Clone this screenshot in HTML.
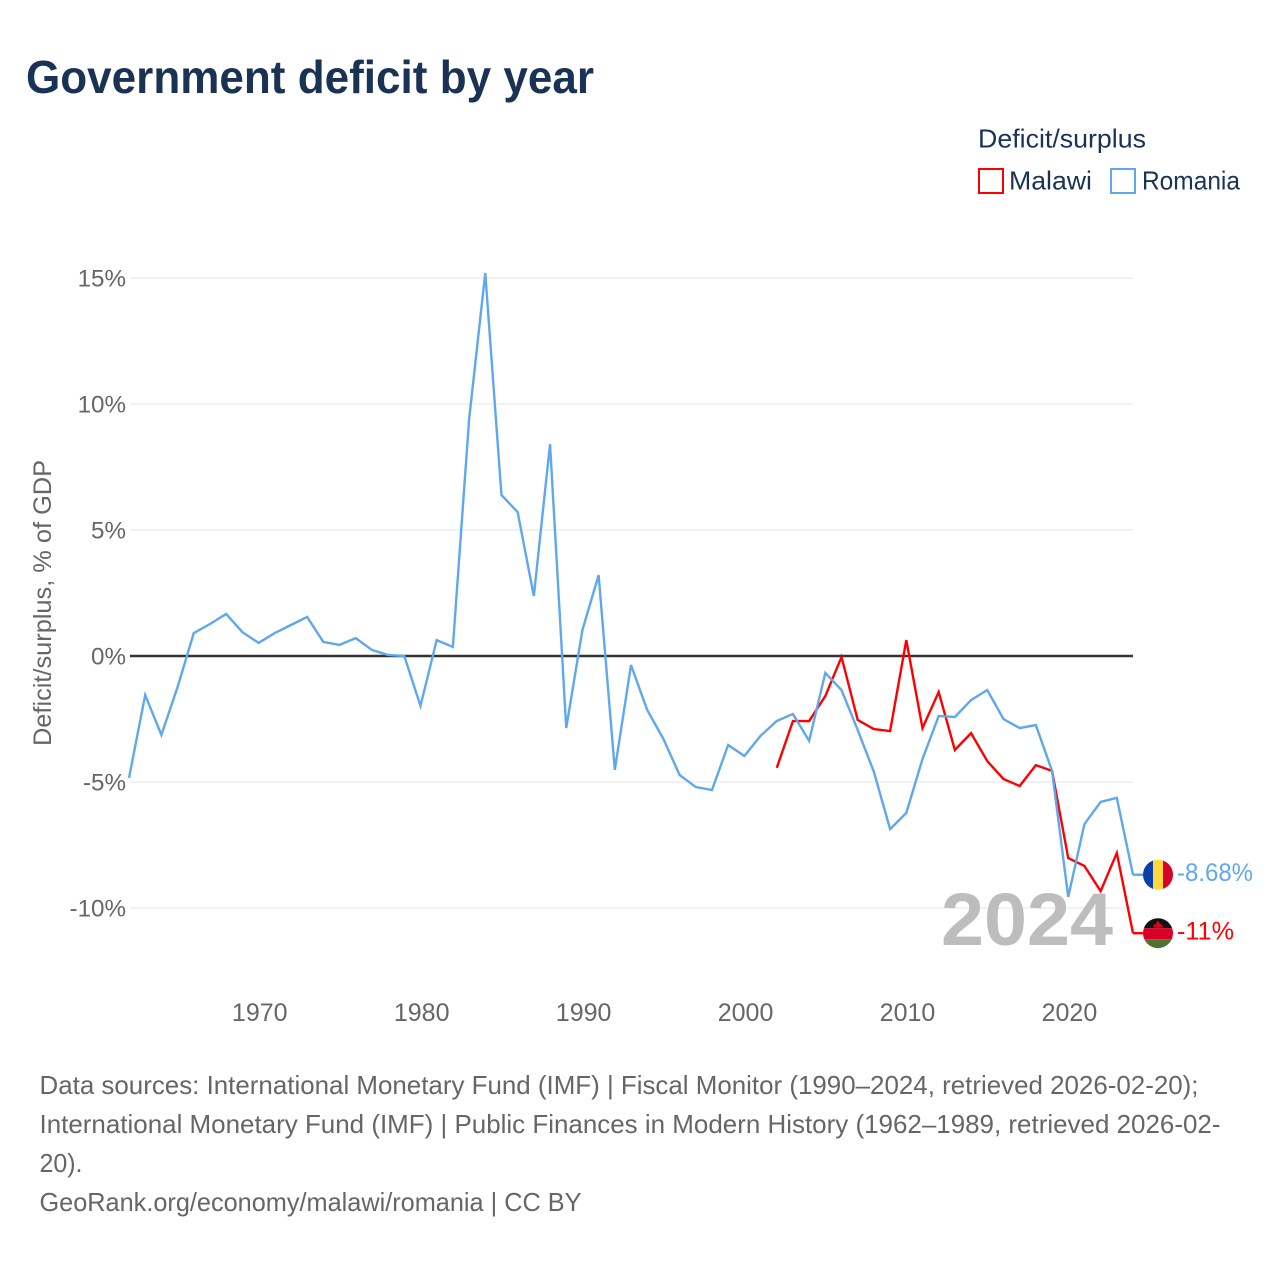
<!DOCTYPE html>
<html lang="en">
<head>
<meta charset="utf-8">
<title>Government deficit by year</title>
<style>
html,body{margin:0;padding:0;background:#fff;}
svg{display:block;}
text{font-family:"Liberation Sans",sans-serif;}
</style>
</head>
<body>
<svg id="chart" xmlns="http://www.w3.org/2000/svg" width="1280" height="1280" viewBox="0 0 1280 1280">
<defs>
<clipPath id="flag-clip"><circle cx="0" cy="0" r="15"></circle></clipPath>
</defs>
<rect x="0" y="0" width="1280" height="1280" fill="#ffffff"></rect>
<text x="26" y="93" font-size="46" font-weight="700" fill="#1a3354" textLength="568" lengthAdjust="spacingAndGlyphs">Government deficit by year</text>
<g>
<text x="978" y="147.5" font-size="26" fill="#1a3354" textLength="168" lengthAdjust="spacingAndGlyphs">Deficit/surplus</text>
<g>
<rect x="979" y="169" width="24" height="24" fill="none" stroke="#ff0000" stroke-width="2"></rect>
<text x="1009" y="189.5" font-size="26" fill="#1a3354" textLength="83" lengthAdjust="spacingAndGlyphs">Malawi</text>
</g>
<g>
<rect x="1111" y="169" width="24" height="24" fill="none" stroke="#5fa8ee" stroke-width="2"></rect>
<text x="1142" y="189.5" font-size="26" fill="#1a3354" textLength="98" lengthAdjust="spacingAndGlyphs">Romania</text>
</g>
</g>
<text transform="translate(51,603) rotate(-90)" text-anchor="middle" font-size="25" fill="#666666" textLength="286" lengthAdjust="spacingAndGlyphs">Deficit/surplus, % of GDP</text>
<g id="grid"></g>
<g id="y-ticks"></g>
<g id="x-ticks"></g>
<text x="1113" y="945" text-anchor="end" font-size="74" font-weight="700" fill="#bdbdbd" textLength="172" lengthAdjust="spacingAndGlyphs">2024</text>
<g id="series"></g>
<g id="ends"></g>
<g font-size="26" fill="#666666">
<text x="39.5" y="1094" textLength="1159" lengthAdjust="spacingAndGlyphs">Data sources: International Monetary Fund (IMF) | Fiscal Monitor (1990–2024, retrieved 2026-02-20);</text>
<text x="39.5" y="1133" textLength="1181" lengthAdjust="spacingAndGlyphs">International Monetary Fund (IMF) | Public Finances in Modern History (1962–1989, retrieved 2026-02-</text>
<text x="39.5" y="1172" textLength="43" lengthAdjust="spacingAndGlyphs">20).</text>
<text x="39.5" y="1211" textLength="542" lengthAdjust="spacingAndGlyphs">GeoRank.org/economy/malawi/romania | CC BY</text>
</g>
</svg>
<script>
const romaniaYears = [1962,1963,1964,1965,1966,1967,1968,1969,1970,1971,1972,1973,1974,1975,1976,1977,1978,1979,1980,1981,1982,1983,1984,1985,1986,1987,1988,1989,1990,1991,1992,1993,1994,1995,1996,1997,1998,1999,2000,2001,2002,2003,2004,2005,2006,2007,2008,2009,2010,2011,2012,2013,2014,2015,2016,2017,2018,2019,2020,2021,2022,2023,2024];
const romaniaValues = [-4.84,-1.55,-3.13,-1.23,0.91,1.27,1.67,0.95,0.52,0.91,1.23,1.55,0.56,0.44,0.71,0.24,0.04,0,-1.98,0.63,0.36,9.37,15.2,6.39,5.71,2.38,8.41,-2.86,1.03,3.21,-4.52,-0.36,-2.14,-3.29,-4.72,-5.2,-5.32,-3.53,-3.97,-3.17,-2.58,-2.3,-3.37,-0.67,-1.35,-2.94,-4.6,-6.87,-6.23,-4.09,-2.38,-2.42,-1.75,-1.35,-2.5,-2.86,-2.74,-4.56,-9.56,-6.67,-5.79,-5.63,-8.68];
const malawiYears = [2002,2003,2004,2005,2006,2007,2008,2009,2010,2011,2012,2013,2014,2015,2016,2017,2018,2019,2020,2021,2022,2023,2024];
const malawiValues = [-4.44,-2.58,-2.58,-1.59,-0.04,-2.54,-2.9,-2.98,0.63,-2.86,-1.43,-3.73,-3.06,-4.17,-4.88,-5.16,-4.33,-4.56,-8.02,-8.33,-9.33,-7.82,-11];
const yTickValues = [15,10,5,0,-5,-10];
const yTickLabels = ['15%','10%','5%','0%','-5%','-10%'];
const xTickValues = [1970,1980,1990,2000,2010,2020];
const romaniaEndLabel = '-8.68%';
const malawiEndLabel = '-11%';

const NS = 'http://www.w3.org/2000/svg';
function xScale(year){ return 129 + (year - 1962) * (1133 - 129) / 62; }
function yScale(value){ return 656 - value * 25.2; }
function make(tag, attrs, parent){
  const el = document.createElementNS(NS, tag);
  for (const k in attrs) el.setAttribute(k, attrs[k]);
  parent.appendChild(el);
  return el;
}
const grid = document.getElementById('grid');
const yTicks = document.getElementById('y-ticks');
const xTicks = document.getElementById('x-ticks');
const series = document.getElementById('series');
const ends = document.getElementById('ends');

yTickValues.forEach(function(v, i){
  if (v !== 0) {
    const line = make('line', {x1: 130, x2: 1133, y1: yScale(v), y2: yScale(v), stroke: '#e6e6e6', 'stroke-width': 1}, grid);
    
    
  }
  const t = make('text', {x: 126, y: yScale(v) + 8.5, 'text-anchor': 'end', 'font-size': 24.2, fill: '#666666'}, yTicks);
  t.textContent = yTickLabels[i];
  
  
});
const zero = make('line', {x1: 130, x2: 1133, y1: yScale(0), y2: yScale(0), stroke: '#333333', 'stroke-width': 2.4}, grid);



xTickValues.forEach(function(v){
  const t = make('text', {x: xScale(v) + 1.2, y: 1021, 'text-anchor': 'middle', 'font-size': 25, fill: '#666666'}, xTicks);
  t.textContent = String(v);
  
  
});

function pathFrom(years, values){
  return years.map(function(y, i){
    return (i ? 'L' : 'M') + xScale(y).toFixed(2) + ' ' + yScale(values[i]).toFixed(2);
  }).join(' ');
}
const malawiLine = make('path', {d: pathFrom(malawiYears, malawiValues), fill: 'none', stroke: '#ff0000', 'stroke-width': 2.4, 'stroke-linejoin': 'miter'}, series);


const romaniaLine = make('path', {d: pathFrom(romaniaYears, romaniaValues), fill: 'none', stroke: '#5fa8ee', 'stroke-width': 2.4, 'stroke-linejoin': 'miter'}, series);



function endMarker(lastYear, lastValue, color, label, labelWidth){
  const x = xScale(lastYear), y = yScale(lastValue);
  const lead = make('line', {x1: x, x2: 1143, y1: y, y2: y, stroke: color, 'stroke-width': 2.4}, ends);
  
  
  const t = make('text', {x: 1177, y: y + 6.5, 'font-size': 25, fill: color, textLength: labelWidth, lengthAdjust: 'spacingAndGlyphs'}, ends);
  t.textContent = label;
  
  
  const g = make('g', {transform: 'translate(1158 ' + y + ')', 'clip-path': 'url(#flag-clip)'}, ends);
  
  
  return g;
}
const roFlag = endMarker(romaniaYears[romaniaYears.length - 1], romaniaValues[romaniaValues.length - 1], '#5fa8ee', romaniaEndLabel, 76);
make('rect', {x: -15, y: -16, width: 10, height: 32, fill: '#0a3fa8'}, roFlag);
make('rect', {x: -5, y: -16, width: 10, height: 32, fill: '#ffd83d'}, roFlag);
make('rect', {x: 5, y: -16, width: 10, height: 32, fill: '#d80027'}, roFlag);
const mwFlag = endMarker(malawiYears[malawiYears.length - 1], malawiValues[malawiValues.length - 1], '#ff0000', malawiEndLabel, 57);
make('rect', {x: -16, y: -16, width: 32, height: 11, fill: '#111111'}, mwFlag);
make('rect', {x: -16, y: -5, width: 32, height: 11, fill: '#d80027'}, mwFlag);
make('rect', {x: -16, y: 6, width: 32, height: 10, fill: '#4e7330'}, mwFlag);
make('path', {d: 'M-5 -6 L-4 -9 L-2 -9 L-1 -12 L1 -12 L2 -9 L4 -9 L5 -6 Z', fill: '#d80027'}, mwFlag);
</script>
</body>
</html>
